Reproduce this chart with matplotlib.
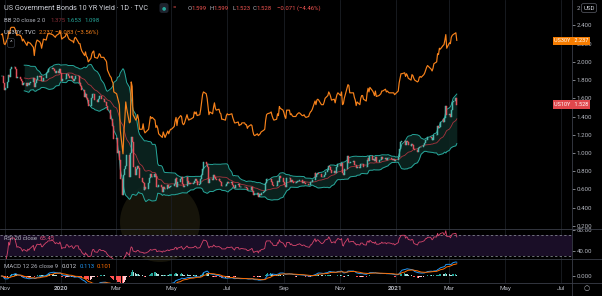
import numpy as np
import pandas as pd
import matplotlib
matplotlib.use("Agg")
import matplotlib.pyplot as plt
from matplotlib.patches import Circle
from matplotlib.lines import Line2D

plt.rcParams['font.family'] = ['Roboto', 'DejaVu Sans']

# daily closes, US 10Y yield (TVC), from 2019-10-28, business days
us10_2019 = [1.84, 1.84, 1.77, 1.69,
             1.71, 1.78, 1.86, 1.83, 1.92, 1.94, 1.94, 1.92, 1.88, 1.82, 1.83, 1.81, 1.79, 1.75, 1.77, 1.77, 1.74, 1.77, 1.75, 1.77, 1.78,
             1.82, 1.72, 1.77, 1.80, 1.84, 1.83, 1.85, 1.79, 1.79, 1.82, 1.88, 1.89, 1.92, 1.92, 1.92, 1.93, 1.92, 1.90, 1.88, 1.90, 1.88, 1.92]
us10_2020a = [1.88, 1.79, 1.81, 1.81, 1.87, 1.87, 1.85, 1.82, 1.85, 1.81, 1.79, 1.81, 1.84, 1.84, 1.77, 1.77, 1.74, 1.69, 1.61, 1.65, 1.60, 1.58, 1.51,
              1.52, 1.60, 1.65, 1.65, 1.58, 1.56, 1.59, 1.62, 1.62, 1.59, 1.59, 1.56, 1.56, 1.52, 1.47, 1.37, 1.37, 1.33, 1.30, 1.15,
              1.16, 1.00, 1.02, 0.92, 0.71, 0.54, 0.76, 0.82, 0.86, 0.98, 0.73, 1.00, 1.18, 1.12, 0.85, 0.76, 0.82, 0.86, 0.83, 0.72, 0.68, 0.67,
              0.59, 0.62, 0.60, 0.67, 0.72, 0.77, 0.73, 0.73, 0.77, 0.75, 0.62, 0.63, 0.65, 0.62, 0.57, 0.62, 0.60, 0.60, 0.65, 0.61, 0.62, 0.64,
              0.64, 0.66, 0.71, 0.72, 0.63, 0.68, 0.71, 0.73, 0.66, 0.62, 0.64, 0.73, 0.69, 0.66, 0.67, 0.66, 0.67, 0.69, 0.71, 0.69, 0.65,
              0.66, 0.71, 0.76, 0.82, 0.90, 0.88, 0.84, 0.74, 0.67, 0.71, 0.70, 0.76, 0.74, 0.71, 0.70, 0.71, 0.69, 0.68, 0.64, 0.64, 0.64, 0.66]
us10_2020b = [0.68, 0.67, 0.67, 0.68, 0.65, 0.63, 0.61, 0.65, 0.66, 0.62, 0.62, 0.63, 0.63, 0.62, 0.62, 0.61, 0.59, 0.59, 0.61, 0.62, 0.58, 0.54, 0.55,
              0.56, 0.52, 0.55, 0.54, 0.56, 0.57, 0.58, 0.67, 0.71, 0.71, 0.71, 0.68, 0.68, 0.65, 0.64, 0.64, 0.69, 0.68, 0.75, 0.72, 0.70,
              0.68, 0.65, 0.63, 0.72, 0.72, 0.68, 0.70, 0.68, 0.67, 0.67, 0.68, 0.69, 0.69, 0.70, 0.67, 0.68, 0.68, 0.67, 0.66, 0.65, 0.65, 0.68,
              0.68, 0.70, 0.78, 0.74, 0.77, 0.78, 0.77, 0.73, 0.73, 0.74, 0.76, 0.79, 0.81, 0.86, 0.84, 0.81, 0.78, 0.80, 0.78, 0.83, 0.85, 0.88,
              0.86, 0.89, 0.78, 0.76, 0.82, 0.93, 0.97, 0.89, 0.89, 0.90, 0.91, 0.87, 0.87, 0.83, 0.85, 0.83, 0.88, 0.88, 0.88, 0.85, 0.84,
              0.92, 0.94, 0.91, 0.97, 0.92, 0.93, 0.91, 0.95, 0.90, 0.90, 0.92, 0.92, 0.95, 0.93, 0.94, 0.92, 0.94, 0.94, 0.94, 0.93, 0.92, 0.93, 0.91]
us10_2021 = [0.92, 0.95, 1.04, 1.07, 1.12, 1.13, 1.13, 1.09, 1.13, 1.12, 1.09, 1.08, 1.10, 1.09, 1.04, 1.03, 1.01, 1.05, 1.07, 1.07, 1.07,
             1.09, 1.11, 1.14, 1.14, 1.17, 1.17, 1.16, 1.14, 1.16, 1.20, 1.20, 1.30, 1.27, 1.29, 1.34, 1.37, 1.34, 1.38, 1.52, 1.42,
             1.43, 1.40, 1.47, 1.56, 1.57, 1.599, 1.528]

# daily closes, US 30Y yield (TVC), same days
us30_2019 = [2.30, 2.31, 2.26, 2.20,
             2.19, 2.26, 2.33, 2.31, 2.37, 2.38, 2.38, 2.36, 2.33, 2.29, 2.30, 2.29, 2.27, 2.23, 2.25, 2.23, 2.18, 2.22, 2.21, 2.21, 2.20,
             2.16, 2.07, 2.16, 2.21, 2.24, 2.22, 2.20, 2.15, 2.20, 2.25, 2.24, 2.28, 2.31, 2.31, 2.31, 2.30, 2.29, 2.28, 2.27, 2.29, 2.31, 2.34]
us30_2020a = [2.31, 2.25, 2.26, 2.28, 2.31, 2.30, 2.27, 2.25, 2.23, 2.23, 2.21, 2.26, 2.27, 2.22, 2.20, 2.20, 2.15, 2.12, 2.07, 2.11, 2.06, 2.05, 2.00,
              2.04, 2.09, 2.11, 2.12, 2.05, 2.04, 2.06, 2.09, 2.08, 2.05, 2.05, 2.03, 2.02, 2.00, 1.91, 1.84, 1.83, 1.79, 1.77, 1.67,
              1.65, 1.61, 1.57, 1.53, 1.25, 0.99, 1.24, 1.37, 1.56, 1.49, 1.33, 1.34, 1.78, 1.73, 1.42, 1.36, 1.38, 1.42, 1.37, 1.26, 1.26, 1.32,
              1.25, 1.22, 1.23, 1.26, 1.33, 1.40, 1.38, 1.39, 1.36, 1.28, 1.30, 1.27, 1.21, 1.18, 1.17, 1.23, 1.20, 1.17, 1.24, 1.21, 1.24, 1.26,
              1.26, 1.29, 1.35, 1.39, 1.30, 1.37, 1.41, 1.40, 1.33, 1.31, 1.32, 1.42, 1.38, 1.36, 1.37, 1.37, 1.39, 1.45, 1.43, 1.45, 1.41,
              1.42, 1.48, 1.56, 1.64, 1.67, 1.65, 1.60, 1.51, 1.42, 1.45, 1.43, 1.50, 1.55, 1.49, 1.47, 1.48, 1.44, 1.43, 1.37, 1.37, 1.36, 1.41]
us30_2020b = [1.43, 1.42, 1.42, 1.43, 1.39, 1.36, 1.33, 1.33, 1.34, 1.30, 1.31, 1.31, 1.33, 1.33, 1.31, 1.31, 1.27, 1.29, 1.31, 1.30, 1.24, 1.20, 1.19,
              1.21, 1.19, 1.20, 1.21, 1.23, 1.25, 1.26, 1.36, 1.42, 1.43, 1.44, 1.45, 1.41, 1.38, 1.36, 1.37, 1.43, 1.41, 1.51, 1.49, 1.47,
              1.44, 1.40, 1.38, 1.47, 1.47, 1.42, 1.43, 1.41, 1.40, 1.40, 1.42, 1.43, 1.44, 1.44, 1.41, 1.41, 1.42, 1.40, 1.39, 1.40, 1.43, 1.45,
              1.46, 1.48, 1.57, 1.53, 1.58, 1.59, 1.58, 1.53, 1.53, 1.53, 1.56, 1.60, 1.63, 1.67, 1.65, 1.62, 1.58, 1.59, 1.55, 1.60, 1.64, 1.66,
              1.63, 1.67, 1.53, 1.54, 1.60, 1.71, 1.75, 1.74, 1.66, 1.66, 1.66, 1.61, 1.58, 1.52, 1.56, 1.53, 1.60, 1.63, 1.63, 1.59, 1.57,
              1.66, 1.71, 1.67, 1.72, 1.68, 1.66, 1.63, 1.68, 1.62, 1.63, 1.64, 1.65, 1.68, 1.68, 1.70, 1.67, 1.68, 1.67, 1.66, 1.66, 1.66, 1.66, 1.64]
us30_2021 = [1.65, 1.68, 1.77, 1.82, 1.87, 1.87, 1.88, 1.84, 1.87, 1.85, 1.82, 1.80, 1.86, 1.85, 1.82, 1.80, 1.78, 1.79, 1.83, 1.84, 1.83,
             1.86, 1.88, 1.91, 1.94, 1.96, 1.93, 1.92, 1.90, 1.93, 1.98, 2.00, 2.09, 2.08, 2.15, 2.14, 2.18, 2.19, 2.24, 2.30, 2.15,
             2.21, 2.20, 2.27, 2.29, 2.30, 2.32, 2.237]

month_ticks = ['2019-11-01', '2020-01-01', '2020-03-01', '2020-05-01', '2020-07-01', '2020-09-01',
               '2020-11-01', '2021-01-01', '2021-03-01', '2021-05-01', '2021-07-01']
month_labels = ['Nov', '2020', 'Mar', 'May', 'Jul', 'Sep', 'Nov', '2021', 'Mar', 'May', 'Jul']
price_ticks = [0.2, 0.4, 0.6, 0.8, 1.0, 1.2, 1.4, 1.6, 1.8, 2.0, 2.2, 2.4]

close = pd.Series(us10_2019 + us10_2020a + us10_2020b + us10_2021)
close30 = pd.Series(us30_2019 + us30_2020a + us30_2020b + us30_2021)
dates = pd.bdate_range('2019-10-28', periods=len(close))
n = min(len(close), len(close30))
close, close30, dates = close[:n], close30[:n], dates[:n]

opn = close.shift(1).fillna(close.iloc[0])
up = close >= opn

# indicators
mid = close.rolling(20).mean()
sd = close.rolling(20).std(ddof=0)
bb_up, bb_lo = mid + 2 * sd, mid - 2 * sd

d = close.diff().fillna(0)
ag = d.clip(lower=0).ewm(alpha=1 / 20, adjust=False).mean()
al = (-d.clip(upper=0)).ewm(alpha=1 / 20, adjust=False).mean()
rsi = 100 - 100 / (1 + ag / al.replace(0, np.nan))

macd = close.ewm(span=12, adjust=False).mean() - close.ewm(span=26, adjust=False).mean()
signal = macd.ewm(span=9, adjust=False).mean()
hist = macd - signal

BG = '#000000'
GRID = '#1b1e25'
TXT = '#b2b5be'
SEP = '#3a3e48'
W, H = 602, 296

fig = plt.figure(figsize=(W / 100, H / 100), dpi=100)
fig.patch.set_facecolor(BG)


def fx(px):
    return px / W


def fy(py):
    return 1 - py / H


ax = fig.add_axes([0, fy(229), fx(572), (229) / H])
ax_rsi = fig.add_axes([0, fy(259), fx(572), 30 / H], sharex=ax)
ax_macd = fig.add_axes([0, fy(283), fx(572), 24 / H], sharex=ax)

# faint watermark logo behind the panes (inch coordinates, so it stays round)
fig.patches.append(Circle((1.60, (H - 222) / 100), 0.40, transform=fig.dpi_scale_trans,
                          facecolor='#16140a', edgecolor='none', zorder=-1))

tick_dates = pd.to_datetime(month_ticks)
for a in (ax, ax_rsi, ax_macd):
    a.set_facecolor('none')
    for s in a.spines.values():
        s.set_visible(False)
    for t in tick_dates:
        a.axvline(t, color=GRID, lw=0.6, zorder=0)
    a.yaxis.tick_right()
    a.tick_params(axis='y', colors=TXT, labelsize=4.4, length=2, width=0.5, pad=1.5)
    a.tick_params(axis='x', length=0)

ax.set_xlim(pd.Timestamp('2019-10-26 12:00'), pd.Timestamp('2021-07-13'))

# price pane
ax.fill_between(dates, bb_lo, bb_up, color='#0c2521', alpha=0.9, lw=0, zorder=1)
ax.plot(dates, bb_up, color='#26a69a', lw=0.7, zorder=2)
ax.plot(dates, bb_lo, color='#26a69a', lw=0.7, zorder=2)
ax.plot(dates, mid, color='#a8333d', lw=0.6, zorder=2)
body_lo = np.minimum(opn, close)
body_h = np.abs(close - opn)
cols = np.where(up, '#4db6ac', '#e0505a')
ax.bar(dates, body_h, bottom=body_lo, width=1.1, color=cols, edgecolor=cols, lw=0.35, zorder=3)
ax.plot(dates, close30, color='#f7821b', lw=0.85, zorder=4)
ax.set_ylim(0.164, 2.68)
ax.set_yticks(price_ticks)
ax.set_yticklabels(['%.3f' % v for v in price_ticks])
ax.tick_params(axis='x', labelbottom=False)

# RSI pane
ax_rsi.axhspan(30, 70, color='#1a0e27', lw=0, zorder=0.5)
ax_rsi.axhline(70, color='#8a8d96', lw=0.55, ls=(0, (3, 3)))
ax_rsi.axhline(30, color='#8a8d96', lw=0.55, ls=(0, (3, 3)))
ax_rsi.plot(dates, rsi, color='#d8456c', lw=0.6, zorder=3)
ax_rsi.set_ylim(24.9, 81.8)
ax_rsi.set_yticks([40, 80])
ax_rsi.set_yticklabels(['40.00', '80.00'])
ax_rsi.tick_params(axis='x', labelbottom=False)

# MACD pane
hprev = hist.shift(1).fillna(0)
hcols = np.where(hist >= 0, np.where(hist >= hprev, '#26a69a', '#b2dfdb'),
                 np.where(hist < hprev, '#ff5252', '#ffcdd2'))
ax_macd.bar(dates, hist, width=1.1, color=hcols, lw=0, zorder=2)
ax_macd.plot(dates, macd, color='#2196f3', lw=0.7, zorder=3)
ax_macd.plot(dates, signal, color='#ff6d00', lw=0.7, zorder=3)
ax_macd.set_ylim(-0.056, 0.137)
ax_macd.set_yticks([0])
ax_macd.set_yticklabels(['0.000'])
ax_macd.set_xticks(tick_dates)
ax_macd.set_xticklabels(month_labels)
ax_macd.tick_params(axis='x', colors=TXT, labelsize=4.6, pad=2)
for lab in ax_macd.get_xticklabels():
    if lab.get_text().isdigit():
        lab.set_fontweight('bold')

# separators
for py in (229, 259, 283):
    fig.add_artist(Line2D([0, 1], [fy(py), fy(py)], color=SEP, lw=0.6))
fig.add_artist(Line2D([fx(572), fx(572)], [0, 1], color=SEP, lw=0.6))


# legend texts
def t(px, py, s, c, fs=4.3, **kw):
    fig.text(fx(px), fy(py), s, color=c, fontsize=fs, ha='left', va='center', **kw)


t(4, 8, 'US Government Bonds 10 YR Yield · 1D · TVC', '#d1d4dc', fs=5.2)
fig.text(fx(164), fy(8), '●', color='#26a69a', fontsize=3.5, ha='center', va='center',
         bbox=dict(boxstyle='round,pad=0.5', fc='#1e222d', ec='none'))
fig.text(fx(174), fy(8), '=', color='#ef5350', fontsize=4.5, ha='center', va='center')
red = '#ef5350'
for px, lab, val in ((188, 'O', '1.599'), (210, 'H', '1.599'), (232, 'L', '1.523'), (253, 'C', '1.528')):
    t(px, 8, lab, TXT)
    t(px + 3.5, 8, val, red)
t(277, 8, '−0.071 (−4.46%)', red)

t(4, 20, 'BB 20 close 2 0', TXT)
t(50, 20, '1.375', '#8a2f38')
t(66, 20, '1.653', '#26a69a')
t(84, 20, '1.098', '#26a69a')

t(4, 32, 'US30Y, TVC', '#d1d4dc')
t(39, 32, '2.237', '#f7821b')
t(55, 32, '−0.083 (−3.56%)', '#f7821b')
fig.text(fx(11), fy(43), '^', color=TXT, fontsize=4.5, ha='center', va='center',
         bbox=dict(boxstyle='round,pad=0.35', fc='none', ec='#3a3e48', lw=0.5))

t(4, 238, 'RSI 20 close', TXT)
t(40, 238, '65.45', '#e0507a')

t(4, 267, 'MACD 12 26 close 9', TXT)
t(62, 267, '0.012', '#d1d4dc')
t(80, 267, '0.113', '#2196f3')
t(97, 267, '0.101', '#ff6d00')

# price scale badges
fig.text(fx(577), fy(8), '2', color=TXT, fontsize=4.4, ha='left', va='center')
fig.text(fx(589), fy(8), 'USD', color='#d1d4dc', fontsize=4.4, ha='center', va='center',
         bbox=dict(boxstyle='round,pad=0.3', fc='#000000', ec='#5d606b', lw=0.5))
fig.text(fx(571.5), fy(40.7), 'US30Y   2.237', color='white', fontsize=4.0, ha='center', va='center',
         bbox=dict(boxstyle='square,pad=0.3', fc='#f57c00', ec='none'))
fig.text(fx(571.5), fy(104.5), 'US10Y   1.528', color='white', fontsize=4.0, ha='center', va='center',
         bbox=dict(boxstyle='square,pad=0.3', fc='#e0474c', ec='none'))
fig.text(fx(587), fy(289), '○', color=TXT, fontsize=5, ha='center', va='center')

fig.savefig('out.png', dpi=100, facecolor=BG)
